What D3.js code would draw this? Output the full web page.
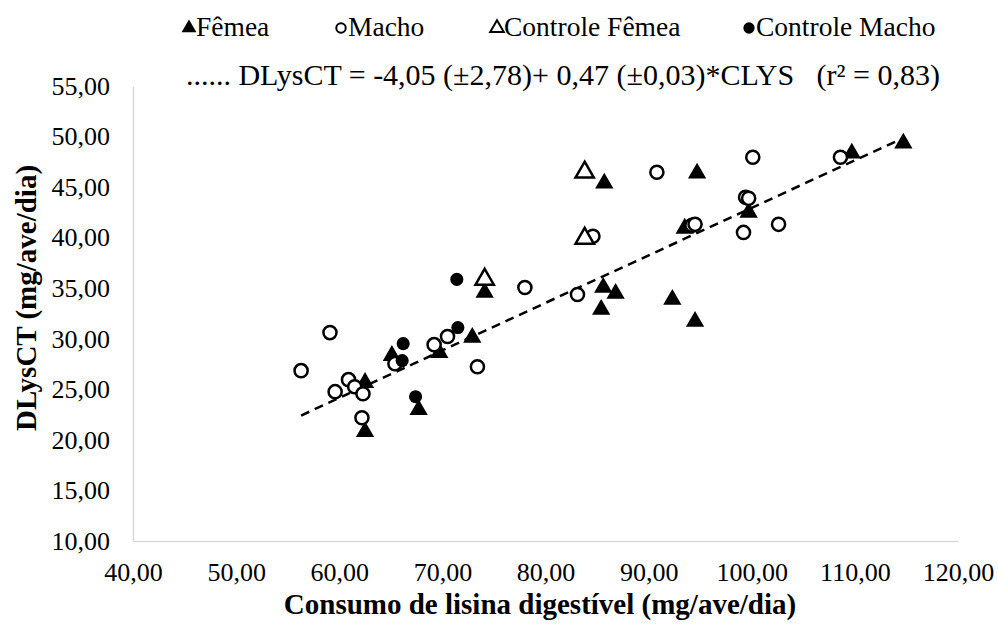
<!DOCTYPE html>
<html lang="pt">
  <head>
    <meta charset="UTF-8" />
    <script src="https://d3js.org/d3.v7.min.js"></script>
    <title>DLysCT x CLYS</title>
    <style>
      body {
        margin: 0;
        background: #fff;
      }
      text {
        font-family: "Liberation Serif", "Times New Roman", serif;
        fill: #000;
      }
      .axis-title {
        font-size: 29px;
        font-weight: bold;
      }
      .legend-text {
        font-size: 27.5px;
      }
    </style>
  </head>
  <body>
    <svg id="chart" width="998" height="627"></svg>

    <script>
      // Data: [consumo de lisina, DLysCT]
      const femea = [
        [62.5, 20.8], [62.5, 25.66], [65.1, 28.33], [67.7, 22.98], [69.7, 28.63],
        [72.9, 30.12], [74.1, 34.58], [85.4, 32.89], [85.6, 35.07], [86.8, 34.48],
        [85.7, 45.38], [92.3, 33.88], [94.5, 31.7], [93.5, 40.92], [94.7, 46.37],
        [99.7, 42.5], [109.7, 48.35], [114.7, 49.34]
      ];
      const macho = [
        [56.3, 26.85], [59.1, 30.61], [59.6, 24.77], [60.9, 25.96], [61.5, 25.26],
        [62.3, 24.57], [62.2, 22.19], [65.4, 27.54], [69.2, 29.42], [70.5, 30.22],
        [73.4, 27.24], [78.0, 35.07], [83.1, 34.38], [84.6, 40.13], [90.8, 46.47],
        [94.2, 41.22], [94.5, 41.32], [99.2, 40.52], [99.4, 43.99], [99.7, 43.89],
        [100.1, 47.96], [102.6, 41.32], [108.6, 47.96]
      ];
      const controleFemea = [[74.1, 35.87], [83.8, 39.93], [83.8, 46.47]];
      const controleMacho = [
        [66.2, 29.52], [66.1, 27.84], [67.4, 24.27], [71.4, 35.87], [71.5, 31.11]
      ];

      const xTicks = [40, 50, 60, 70, 80, 90, 100, 110, 120];
      const yTicks = [10, 15, 20, 25, 30, 35, 40, 45, 50, 55];

      // regression: DLysCT = -4,05 + 0,47*CLYS
      const intercept = -4.05;
      const slope = 0.47;
      const fitRange = [56.3, 114.7];

      const legendNames = ["Fêmea", "Macho", "Controle Fêmea", "Controle Macho"];
      const equation =
        "...... DLysCT = -4,05 (±2,78)+ 0,47 (±0,03)*CLYS   (r² = 0,83)";

      const svg = d3.select("#chart");
      const plotL = 133, plotR = 958, plotT = 86, plotB = 541;

      const x = d3.scaleLinear().domain([40, 120]).range([plotL, plotR]);
      const y = d3.scaleLinear().domain([10, 55]).range([plotB, plotT]);
      const fmt = (v) => d3.format(".2f")(v).replace(".", ",");

      // axes (light gray lines, no tick marks)
      const xAxis = svg
        .append("g")
        .attr("transform", `translate(0,${plotB})`)
        .call(d3.axisBottom(x).tickValues(xTicks).tickSize(0).tickPadding(22).tickFormat(fmt));
      const yAxis = svg
        .append("g")
        .attr("transform", `translate(${plotL},0)`)
        .call(d3.axisLeft(y).tickValues(yTicks).tickSize(0).tickPadding(23).tickFormat(fmt));

      [xAxis, yAxis].forEach((g) => {
        g.select(".domain").attr("stroke", "#d9d9d9").attr("stroke-width", 1.5);
        g.selectAll(".tick text")
          .attr("fill", "#000")
          .style("font-family", '"Liberation Serif", serif')
          .style("font-size", "26px");
      });

      // regression line
      svg
        .append("line")
        .attr("x1", x(fitRange[0]))
        .attr("y1", y(intercept + slope * fitRange[0]))
        .attr("x2", x(fitRange[1]))
        .attr("y2", y(intercept + slope * fitRange[1]))
        .attr("stroke", "#000")
        .attr("stroke-width", 2.5)
        .attr("stroke-dasharray", "9,6");

      // markers
      const tri = d3.symbol().type(d3.symbolTriangle).size(145);
      const circ = d3.symbol().type(d3.symbolCircle).size(135);

      const series = [
        { data: femea, shape: tri, fill: "#000", stroke: "none" },
        { data: macho, shape: circ, fill: "#fff", stroke: "#000" },
        { data: controleFemea, shape: tri, fill: "#fff", stroke: "#000" },
        { data: controleMacho, shape: circ, fill: "#000", stroke: "none" }
      ];

      series.forEach((s) => {
        svg
          .append("g")
          .selectAll("path")
          .data(s.data)
          .enter()
          .append("path")
          .attr("d", s.shape)
          .attr("transform", (d) => `translate(${x(d[0])},${y(d[1])})`)
          .attr("fill", s.fill)
          .attr("stroke", s.stroke)
          .attr("stroke-width", 2.5);
      });

      // legend
      const legendX = [183, 335, 491, 743];
      const legendSym = [
        { shape: d3.symbol().type(d3.symbolTriangle).size(95), fill: "#000", stroke: "none" },
        { shape: d3.symbol().type(d3.symbolCircle).size(70), fill: "#fff", stroke: "#000" },
        { shape: d3.symbol().type(d3.symbolTriangle).size(80), fill: "#fff", stroke: "#000" },
        { shape: d3.symbol().type(d3.symbolCircle).size(100), fill: "#000", stroke: "none" }
      ];
      legendNames.forEach((name, i) => {
        svg
          .append("path")
          .attr("d", legendSym[i].shape)
          .attr("transform", `translate(${legendX[i] + 6},28)`)
          .attr("fill", legendSym[i].fill)
          .attr("stroke", legendSym[i].stroke)
          .attr("stroke-width", 2);
        svg
          .append("text")
          .attr("class", "legend-text")
          .attr("x", legendX[i] + 13)
          .attr("y", 36)
          .text(name);
      });

      svg
        .append("text")
        .attr("class", "legend-text")
        .attr("x", 940)
        .attr("y", 85)
        .attr("text-anchor", "end")
        .style("font-size", "30px")
        .style("white-space", "pre")
        .text(equation);

      // axis titles
      svg
        .append("text")
        .attr("class", "axis-title")
        .attr("x", 540)
        .attr("y", 614)
        .attr("text-anchor", "middle")
        .text("Consumo de lisina digestível (mg/ave/dia)");

      svg
        .append("text")
        .attr("class", "axis-title")
        .attr("transform", "translate(36,298) rotate(-90)")
        .attr("text-anchor", "middle")
        .text("DLysCT (mg/ave/dia)");
    </script>
  </body>
</html>
